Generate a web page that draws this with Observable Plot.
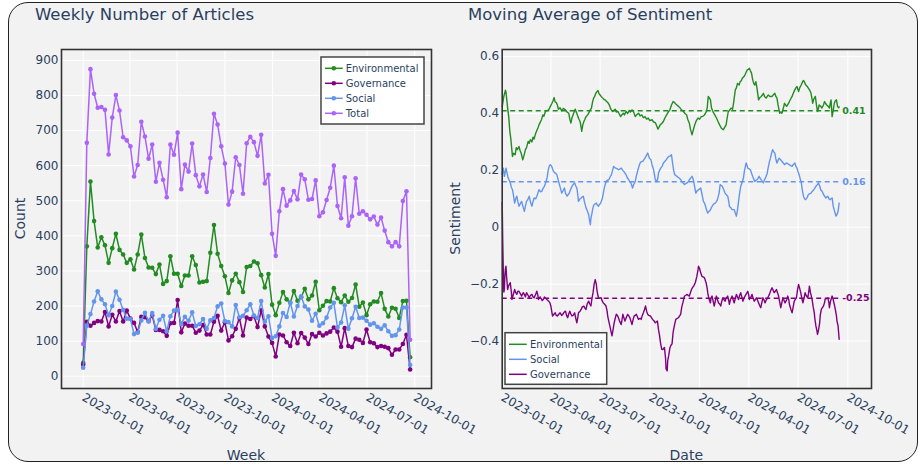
<!DOCTYPE html>
<html><head><meta charset="utf-8">
<script src="https://cdn.jsdelivr.net/npm/d3@7"></script>
<script src="https://cdn.jsdelivr.net/npm/@observablehq/plot@0.6"></script>
<style>
body{margin:0;background:#fff;font-family:"DejaVu Sans",sans-serif;}
#page{position:relative;width:919px;height:464px;overflow:hidden;background:#fff;}
#box{position:absolute;left:8px;top:2px;width:910px;height:460px;box-sizing:border-box;border:1.5px solid #222;border-radius:20px;background:#f2f2f2;}
.abs{position:absolute;left:0;top:0;}
</style></head>
<body><div id="page"><div id="box"></div></div>
<script>
// ---------- Left panel: weekly counts ----------
const weekStart = "2023-01-01";
const weekCount = 91;
const environmental = [38,370,555,442,367,396,373,323,365,406,360,347,323,333,304,347,404,337,310,309,291,318,263,271,342,292,292,257,287,287,342,317,267,269,271,352,431,349,314,285,237,273,292,268,240,311,314,327,322,288,253,291,204,174,209,240,219,209,243,215,225,249,219,230,269,188,201,214,213,251,222,211,230,212,223,261,198,210,174,205,213,212,237,192,170,195,192,166,214,215,54];
const governance = [33,155,144,152,157,156,183,142,175,156,186,156,187,164,152,126,169,168,157,173,132,132,128,115,151,152,217,125,150,144,144,124,130,146,119,119,155,172,130,154,102,114,135,166,116,167,163,171,140,188,142,113,95,56,119,116,97,86,124,94,123,110,92,120,113,124,116,122,127,139,127,84,137,86,83,107,104,95,133,97,94,83,86,84,80,61,76,76,92,118,19];
const social = [24,144,177,213,242,219,205,174,200,241,218,189,164,163,120,124,159,181,156,180,135,161,172,128,171,187,189,149,169,158,182,143,148,163,135,159,166,199,207,157,154,142,203,168,172,188,205,173,166,214,155,171,109,114,142,180,169,210,170,200,228,199,190,158,178,144,151,167,196,209,139,153,202,135,165,198,166,167,158,147,151,141,135,145,128,115,117,133,196,196,32];
const total = [92,665,875,805,765,767,759,632,737,801,757,681,672,655,569,602,725,683,620,660,554,608,560,510,660,631,694,533,603,583,663,573,541,575,525,622,748,717,655,606,489,526,624,602,520,664,682,667,628,688,549,574,406,343,470,533,486,501,528,504,575,561,503,505,558,456,467,502,537,600,485,450,567,429,456,564,463,470,460,447,455,432,452,415,382,370,382,370,499,527,104];
const countSeries = ["Environmental","Governance","Social","Total"];
const countColors = ["#228B22","#800080","#6495ED","#AB63FA"];
const xTickLabels = ["2023-01-01","2023-04-01","2023-07-01","2023-10-01","2024-01-01","2024-04-01","2024-07-01","2024-10-01"];
const yTicksLeft = [0,100,200,300,400,500,600,700,800,900];

// ---------- Right panel: moving average of sentiment (day offset, value) ----------
const sentimentStart = "2023-01-01";
const envSentiment = [[0,0.423],[3,0.46],[6,0.482],[7,0.475],[10,0.42],[12,0.39],[14,0.34],[16,0.31],[19,0.249],[21,0.26],[24,0.255],[26,0.28],[28,0.273],[31,0.284],[33,0.27],[35,0.261],[38,0.237],[40,0.25],[43,0.273],[45,0.28],[48,0.302],[50,0.295],[52,0.308],[55,0.3],[57,0.317],[59,0.31],[61,0.325],[64,0.34],[66,0.349],[68,0.36],[70,0.368],[73,0.38],[75,0.395],[77,0.39],[80,0.407],[83,0.41],[86,0.413],[89,0.425],[92,0.436],[94,0.445],[96,0.456],[98,0.44],[100,0.439],[102,0.43],[104,0.415],[107,0.42],[110,0.409],[113,0.418],[117,0.413],[120,0.405],[123,0.401],[125,0.38],[127,0.366],[129,0.385],[131,0.395],[133,0.405],[135,0.415],[138,0.4],[140,0.389],[142,0.38],[144,0.372],[146,0.35],[147,0.337],[149,0.36],[151,0.372],[153,0.38],[155,0.389],[158,0.395],[160,0.401],[162,0.41],[165,0.419],[167,0.44],[169,0.454],[171,0.46],[173,0.471],[175,0.476],[177,0.481],[179,0.47],[181,0.465],[183,0.46],[186,0.454],[188,0.45],[190,0.448],[193,0.442],[195,0.439],[198,0.43],[200,0.419],[202,0.412],[204,0.407],[206,0.41],[209,0.415],[211,0.405],[214,0.407],[216,0.4],[219,0.389],[221,0.395],[224,0.401],[226,0.395],[229,0.407],[232,0.4],[235,0.411],[237,0.405],[240,0.413],[243,0.405],[246,0.389],[249,0.396],[252,0.401],[255,0.392],[258,0.395],[261,0.385],[264,0.389],[267,0.38],[270,0.384],[273,0.375],[277,0.378],[280,0.37],[283,0.368],[286,0.355],[288,0.345],[290,0.352],[292,0.36],[295,0.365],[298,0.372],[301,0.385],[304,0.395],[307,0.405],[310,0.413],[313,0.43],[316,0.442],[318,0.44],[320,0.435],[323,0.43],[326,0.425],[329,0.419],[332,0.412],[335,0.407],[338,0.4],[341,0.395],[343,0.38],[346,0.366],[348,0.345],[351,0.325],[353,0.34],[356,0.36],[359,0.375],[362,0.384],[365,0.38],[368,0.389],[371,0.39],[374,0.395],[377,0.405],[379,0.419],[381,0.46],[383,0.455],[385,0.448],[387,0.419],[390,0.405],[393,0.395],[396,0.385],[399,0.372],[402,0.36],[405,0.349],[407,0.345],[409,0.343],[411,0.35],[414,0.36],[416,0.385],[418,0.407],[420,0.41],[423,0.419],[426,0.415],[428,0.44],[431,0.483],[433,0.49],[435,0.506],[438,0.5],[440,0.512],[442,0.515],[444,0.524],[447,0.53],[449,0.536],[451,0.545],[453,0.553],[455,0.555],[457,0.559],[459,0.55],[461,0.542],[463,0.52],[465,0.506],[467,0.5],[469,0.512],[471,0.49],[474,0.448],[476,0.455],[479,0.46],[481,0.465],[483,0.471],[485,0.46],[488,0.454],[490,0.46],[492,0.465],[495,0.46],[499,0.46],[501,0.465],[504,0.471],[506,0.46],[508,0.454],[510,0.43],[513,0.401],[515,0.405],[517,0.401],[520,0.42],[522,0.436],[524,0.43],[526,0.425],[529,0.435],[531,0.442],[533,0.45],[536,0.46],[538,0.47],[541,0.483],[543,0.49],[545,0.495],[548,0.477],[550,0.49],[553,0.501],[555,0.51],[557,0.516],[559,0.51],[561,0.501],[564,0.495],[566,0.489],[569,0.48],[571,0.471],[573,0.45],[574,0.436],[576,0.45],[579,0.46],[581,0.43],[583,0.407],[585,0.42],[586,0.43],[589,0.425],[591,0.419],[594,0.43],[596,0.442],[598,0.435],[600,0.43],[603,0.425],[605,0.419],[607,0.44],[608,0.448],[610,0.389],[612,0.41],[614,0.436],[616,0.445],[618,0.448],[620,0.425],[622,0.42],[623,0.423]];
const socSentiment = [[0,0.187],[2,0.208],[4,0.179],[7,0.208],[9,0.19],[11,0.173],[13,0.165],[15,0.156],[17,0.14],[19,0.132],[21,0.11],[23,0.085],[25,0.1],[27,0.109],[29,0.09],[31,0.074],[34,0.085],[36,0.091],[38,0.075],[41,0.056],[43,0.075],[45,0.091],[48,0.1],[50,0.109],[52,0.09],[55,0.074],[57,0.09],[59,0.103],[62,0.1],[64,0.109],[66,0.12],[68,0.132],[71,0.125],[73,0.126],[75,0.135],[78,0.144],[80,0.155],[83,0.173],[85,0.2],[87,0.215],[89,0.22],[92,0.212],[94,0.2],[97,0.191],[99,0.19],[101,0.185],[103,0.17],[105,0.156],[108,0.135],[110,0.12],[113,0.13],[115,0.138],[117,0.12],[120,0.109],[122,0.115],[124,0.12],[127,0.135],[129,0.144],[131,0.15],[134,0.156],[136,0.145],[138,0.138],[140,0.11],[141,0.091],[144,0.1],[146,0.103],[148,0.107],[150,0.109],[152,0.09],[155,0.068],[157,0.06],[160,0.044],[161,0.03],[163,0.009],[164,0.03],[166,0.05],[168,0.07],[170,0.08],[172,0.082],[174,0.085],[176,0.078],[178,0.074],[180,0.08],[182,0.085],[185,0.1],[187,0.12],[189,0.14],[192,0.161],[194,0.165],[197,0.167],[199,0.175],[202,0.185],[204,0.2],[206,0.214],[208,0.21],[210,0.208],[213,0.205],[215,0.202],[218,0.205],[220,0.208],[223,0.2],[225,0.196],[227,0.19],[229,0.185],[231,0.175],[234,0.167],[236,0.16],[238,0.156],[241,0.138],[243,0.15],[246,0.161],[248,0.18],[251,0.202],[253,0.215],[255,0.226],[257,0.23],[260,0.232],[262,0.238],[264,0.243],[266,0.25],[269,0.261],[271,0.25],[272,0.243],[275,0.237],[277,0.22],[280,0.202],[282,0.18],[283,0.167],[286,0.161],[288,0.175],[289,0.191],[291,0.2],[293,0.208],[296,0.215],[298,0.226],[301,0.232],[303,0.237],[306,0.245],[308,0.249],[310,0.25],[313,0.255],[315,0.226],[317,0.2],[319,0.185],[321,0.182],[323,0.179],[325,0.176],[327,0.173],[330,0.168],[332,0.161],[335,0.155],[337,0.15],[339,0.153],[342,0.156],[344,0.16],[346,0.167],[348,0.172],[351,0.179],[353,0.17],[354,0.161],[356,0.14],[358,0.12],[360,0.127],[363,0.132],[365,0.135],[367,0.138],[370,0.11],[372,0.091],[374,0.085],[375,0.08],[378,0.06],[380,0.05],[382,0.055],[385,0.061],[387,0.07],[390,0.08],[392,0.083],[394,0.085],[396,0.09],[398,0.097],[401,0.12],[403,0.15],[405,0.147],[407,0.144],[410,0.13],[412,0.12],[414,0.115],[417,0.109],[419,0.09],[420,0.074],[423,0.068],[425,0.062],[427,0.062],[429,0.062],[431,0.05],[433,0.039],[435,0.06],[437,0.091],[439,0.12],[441,0.144],[444,0.16],[446,0.173],[448,0.2],[451,0.226],[453,0.215],[454,0.208],[457,0.205],[459,0.202],[461,0.19],[463,0.179],[465,0.17],[467,0.161],[469,0.165],[471,0.167],[473,0.172],[475,0.179],[477,0.172],[479,0.167],[481,0.16],[483,0.156],[485,0.167],[488,0.179],[490,0.19],[491,0.202],[494,0.23],[496,0.243],[498,0.26],[500,0.273],[502,0.265],[504,0.261],[506,0.24],[508,0.226],[510,0.235],[512,0.243],[515,0.237],[517,0.232],[520,0.225],[522,0.22],[524,0.224],[526,0.226],[529,0.222],[531,0.22],[534,0.216],[536,0.214],[538,0.22],[541,0.226],[543,0.215],[545,0.208],[547,0.195],[549,0.185],[551,0.17],[553,0.156],[555,0.13],[557,0.109],[559,0.1],[561,0.097],[564,0.105],[566,0.115],[569,0.118],[571,0.12],[573,0.126],[576,0.132],[578,0.138],[580,0.144],[583,0.15],[585,0.156],[587,0.145],[589,0.132],[592,0.125],[594,0.115],[596,0.11],[598,0.103],[600,0.106],[602,0.109],[604,0.1],[606,0.097],[608,0.1],[610,0.103],[612,0.074],[614,0.06],[617,0.039],[619,0.045],[621,0.056],[622,0.07],[623,0.085]];
const govSentiment = [[0,0.087],[1,-0.05],[2,-0.15],[3,-0.228],[4,-0.219],[5,-0.17],[6,-0.145],[7,-0.137],[8,-0.17],[10,-0.219],[12,-0.205],[15,-0.195],[17,-0.23],[18,-0.254],[20,-0.24],[23,-0.219],[25,-0.23],[27,-0.236],[29,-0.225],[31,-0.225],[34,-0.235],[36,-0.242],[39,-0.23],[41,-0.236],[43,-0.245],[45,-0.23],[48,-0.24],[50,-0.248],[52,-0.24],[55,-0.236],[57,-0.245],[59,-0.248],[62,-0.235],[64,-0.225],[66,-0.24],[67,-0.254],[70,-0.245],[72,-0.251],[74,-0.258],[76,-0.254],[78,-0.245],[81,-0.251],[83,-0.255],[86,-0.26],[88,-0.265],[90,-0.277],[92,-0.3],[93,-0.312],[96,-0.305],[98,-0.301],[100,-0.31],[102,-0.312],[105,-0.305],[107,-0.301],[110,-0.31],[112,-0.306],[114,-0.3],[117,-0.295],[119,-0.31],[121,-0.318],[123,-0.305],[125,-0.295],[127,-0.305],[129,-0.312],[131,-0.31],[134,-0.301],[136,-0.32],[138,-0.336],[140,-0.315],[141,-0.301],[144,-0.295],[146,-0.289],[148,-0.28],[151,-0.277],[153,-0.285],[155,-0.289],[157,-0.27],[160,-0.26],[162,-0.27],[164,-0.277],[166,-0.25],[168,-0.23],[170,-0.2],[172,-0.184],[174,-0.2],[175,-0.219],[177,-0.24],[178,-0.248],[180,-0.25],[183,-0.248],[185,-0.26],[187,-0.266],[189,-0.27],[192,-0.277],[194,-0.295],[195,-0.312],[197,-0.33],[199,-0.347],[201,-0.365],[203,-0.382],[205,-0.36],[207,-0.336],[209,-0.32],[211,-0.306],[213,-0.31],[215,-0.318],[217,-0.33],[220,-0.342],[222,-0.32],[223,-0.306],[225,-0.318],[227,-0.33],[230,-0.315],[232,-0.306],[234,-0.312],[236,-0.318],[238,-0.33],[240,-0.342],[242,-0.325],[244,-0.312],[246,-0.31],[248,-0.306],[250,-0.315],[252,-0.324],[255,-0.32],[257,-0.324],[259,-0.31],[261,-0.301],[263,-0.29],[265,-0.277],[267,-0.295],[269,-0.306],[271,-0.31],[274,-0.312],[276,-0.318],[278,-0.324],[281,-0.33],[283,-0.336],[285,-0.333],[287,-0.33],[289,-0.36],[291,-0.382],[293,-0.41],[295,-0.429],[297,-0.43],[300,-0.423],[302,-0.46],[303,-0.499],[305,-0.505],[306,-0.47],[308,-0.45],[310,-0.425],[312,-0.415],[314,-0.41],[316,-0.37],[317,-0.359],[319,-0.34],[321,-0.324],[324,-0.32],[326,-0.318],[328,-0.312],[330,-0.306],[332,-0.28],[334,-0.266],[337,-0.242],[339,-0.24],[342,-0.236],[344,-0.24],[346,-0.242],[348,-0.23],[350,-0.219],[352,-0.212],[354,-0.207],[357,-0.195],[359,-0.18],[360,-0.172],[362,-0.15],[363,-0.137],[365,-0.145],[366,-0.154],[368,-0.165],[369,-0.172],[372,-0.175],[374,-0.178],[376,-0.19],[377,-0.195],[379,-0.215],[380,-0.23],[382,-0.25],[385,-0.266],[386,-0.25],[388,-0.242],[390,-0.26],[392,-0.277],[394,-0.26],[396,-0.242],[398,-0.255],[400,-0.266],[402,-0.27],[404,-0.277],[406,-0.26],[408,-0.248],[410,-0.255],[412,-0.26],[414,-0.25],[417,-0.242],[419,-0.26],[420,-0.271],[422,-0.255],[425,-0.242],[427,-0.255],[429,-0.266],[431,-0.25],[433,-0.236],[435,-0.245],[437,-0.254],[439,-0.24],[441,-0.23],[443,-0.245],[445,-0.26],[447,-0.25],[449,-0.242],[451,-0.235],[454,-0.225],[456,-0.24],[457,-0.254],[460,-0.245],[462,-0.236],[464,-0.25],[466,-0.26],[468,-0.255],[470,-0.248],[472,-0.256],[474,-0.266],[476,-0.275],[478,-0.283],[480,-0.265],[482,-0.248],[484,-0.256],[486,-0.266],[488,-0.256],[491,-0.248],[493,-0.24],[494,-0.236],[497,-0.22],[499,-0.213],[501,-0.222],[503,-0.23],[505,-0.225],[507,-0.219],[509,-0.23],[511,-0.242],[513,-0.262],[515,-0.283],[517,-0.265],[519,-0.248],[521,-0.257],[523,-0.266],[526,-0.255],[528,-0.242],[530,-0.256],[531,-0.271],[534,-0.29],[536,-0.301],[538,-0.28],[540,-0.26],[542,-0.254],[544,-0.248],[546,-0.22],[548,-0.201],[550,-0.215],[552,-0.23],[554,-0.25],[556,-0.266],[558,-0.25],[560,-0.23],[562,-0.24],[565,-0.248],[567,-0.225],[568,-0.207],[570,-0.23],[573,-0.254],[575,-0.28],[577,-0.301],[578,-0.32],[580,-0.347],[582,-0.365],[583,-0.377],[585,-0.36],[587,-0.336],[588,-0.31],[590,-0.289],[592,-0.283],[594,-0.277],[596,-0.265],[597,-0.254],[600,-0.25],[602,-0.248],[604,-0.265],[605,-0.283],[607,-0.26],[610,-0.242],[612,-0.255],[614,-0.271],[616,-0.29],[618,-0.312],[619,-0.33],[621,-0.347],[622,-0.37],[623,-0.394]];
const sentimentSeries = ["Environmental","Social","Governance"];
const sentimentColors = ["#228B22","#6495ED","#800080"];
const sentimentMeans = [0.41, 0.16, -0.25];
const sentimentMeanLabels = ["0.41", "0.16", "-0.25"];
const yTicksRight = [-0.4,-0.2,0,0.2,0.4,0.6];
const yTickLabelsRight = ["\u22120.4","\u22120.2","0","0.2","0.4","0.6"];

// ---------- build ----------
const DAY = 864e5;
const t0 = Date.parse(weekStart);
const s0 = Date.parse(sentimentStart);
const weekDates = d3.range(weekCount).map(i => new Date(t0 + 7 * i * DAY));
const countTable = [environmental, governance, social, total].flatMap((arr, k) =>
  arr.map((v, i) => ({series: countSeries[k], color: countColors[k], week: weekDates[i], value: v})));
const xTicks = xTickLabels.map(s => new Date(s));
const fmtX = d => xTickLabels[xTicks.findIndex(t => +t === +d)];
const textColor = "#2a3f5f";
const baseStyle = {background: "transparent", overflow: "visible", fontFamily: "DejaVu Sans", fontSize: "12px", color: textColor};

const leftMarks = [
  Plot.gridX(xTicks, {stroke: "#fff", strokeOpacity: 1, strokeWidth: 1}),
  Plot.gridY(yTicksLeft, {stroke: "#fff", strokeOpacity: 1, strokeWidth: 1}),
  Plot.axisY(yTicksLeft, {tickSize: 0, tickPadding: 3, label: null, fill: textColor}),
  Plot.axisX(xTicks, {tickSize: 0, tickPadding: 8, tickRotate: 30, textAnchor: "start", tickFormat: fmtX, label: null, fill: textColor})
];
countSeries.forEach((name, k) => {
  const rows = countTable.filter(r => r.series === name);
  leftMarks.push(Plot.line(rows, {x: "week", y: "value", stroke: countColors[k], strokeWidth: 1.5}));
  leftMarks.push(Plot.dot(rows, {x: "week", y: "value", fill: countColors[k], r: 2.3, stroke: "none"}));
});
leftMarks.push(Plot.frame({stroke: "#333", strokeWidth: 1.6}));

const left = Plot.plot({
  width: 460, height: 464,
  marginLeft: 61, marginRight: 29, marginTop: 49, marginBottom: 76,
  style: baseStyle,
  x: {type: "utc", domain: [new Date(t0 - 41.8 * DAY), new Date(t0 + 671.2 * DAY)]},
  y: {domain: [-35, 931]},
  marks: leftMarks
});

const sentTables = [envSentiment, socSentiment, govSentiment].map((arr, k) =>
  arr.map(([d, v]) => ({series: sentimentSeries[k], date: new Date(s0 + d * DAY), value: v})));
const sentEnd = new Date(s0 + 623 * DAY);
const meanRows = sentimentMeans.map((m, k) => ({mean: m, label: sentimentMeanLabels[k], color: sentimentColors[k], start: new Date(s0), end: sentEnd}));
const fmtY = d => yTickLabelsRight[yTicksRight.findIndex(t => Math.abs(t - d) < 1e-9)];

const rightMarks = [
  Plot.gridX(xTicks, {stroke: "#fff", strokeOpacity: 1, strokeWidth: 1}),
  Plot.gridY(yTicksRight, {stroke: "#fff", strokeOpacity: 1, strokeWidth: 1}),
  Plot.axisY(yTicksRight, {tickSize: 0, tickPadding: 3, tickFormat: fmtY, label: null, fill: textColor}),
  Plot.axisX(xTicks, {tickSize: 0, tickPadding: 8, tickRotate: 30, textAnchor: "start", tickFormat: fmtX, label: null, fill: textColor})
];
sentTables.forEach((rows, k) => {
  rightMarks.push(Plot.line(rows, {x: "date", y: "value", stroke: sentimentColors[k], strokeWidth: 1.4}));
});
meanRows.forEach(r => {
  rightMarks.push(Plot.ruleY([r], {y: "mean", x1: "start", x2: "end", stroke: r.color, strokeWidth: 1.5, strokeDasharray: "5,3.5"}));
  rightMarks.push(Plot.text([r], {x: "end", y: "mean", text: "label", dx: 3, textAnchor: "start", fill: r.color, fontWeight: "bold", fontSize: 9.5}));
});
rightMarks.push(Plot.frame({stroke: "#333", strokeWidth: 1.6}));

const right = Plot.plot({
  width: 479, height: 464,
  marginLeft: 61.7, marginRight: 48, marginTop: 49, marginBottom: 76,
  style: baseStyle,
  x: {type: "utc", domain: [new Date(s0), new Date(s0 + 682.8 * DAY)]},
  y: {domain: [-0.567, 0.625]},
  marks: rightMarks
});

const page = document.getElementById("page");
left.classList.add("abs"); left.style.left = "0px"; left.style.top = "0px";
right.classList.add("abs"); right.style.left = "440px"; right.style.top = "0px";
page.appendChild(left); page.appendChild(right);

// ---------- overlay: titles, axis titles, legends ----------
const NS = "http://www.w3.org/2000/svg";
const ov = document.createElementNS(NS, "svg");
ov.setAttribute("width", 919); ov.setAttribute("height", 464);
ov.setAttribute("class", "abs");
ov.style.fontFamily = "DejaVu Sans";
page.appendChild(ov);
function el(tag, attrs, text) {
  const e = document.createElementNS(NS, tag);
  for (const k in attrs) e.setAttribute(k, attrs[k]);
  if (text != null) e.textContent = text;
  ov.appendChild(e);
  return e;
}
el("text", {x: 35, y: 19.5, "font-size": 16.5, fill: textColor}, "Weekly Number of Articles");
el("text", {x: 468, y: 19.5, "font-size": 16.5, fill: textColor}, "Moving Average of Sentiment");
el("text", {x: 246, y: 460, "font-size": 14, fill: textColor, "text-anchor": "middle"}, "Week");
el("text", {x: 686.3, y: 460, "font-size": 14, fill: textColor, "text-anchor": "middle"}, "Date");
el("text", {transform: "translate(24.5,218.5) rotate(-90)", "font-size": 14, fill: textColor, "text-anchor": "middle"}, "Count");
el("text", {transform: "translate(460,218.5) rotate(-90)", "font-size": 14, fill: textColor, "text-anchor": "middle"}, "Sentiment");

// left legend
el("rect", {x: 321, y: 57, width: 103, height: 67, fill: "#fff", stroke: "#444", "stroke-width": 1.5});
countSeries.forEach((name, k) => {
  const cy = 68.3 + 15 * k;
  el("line", {x1: 325, x2: 342.7, y1: cy, y2: cy, stroke: countColors[k], "stroke-width": 1.5});
  el("circle", {cx: 333.8, cy: cy, r: 2.3, fill: countColors[k]});
  el("text", {x: 345.7, y: cy + 3.6, "font-size": 10, fill: textColor}, name);
});
// right legend
el("rect", {x: 505, y: 332.7, width: 101.7, height: 51.6, fill: "#fff", stroke: "#444", "stroke-width": 1.5});
sentimentSeries.forEach((name, k) => {
  const cy = 344.3 + 15 * k;
  el("line", {x1: 509, x2: 526.7, y1: cy, y2: cy, stroke: sentimentColors[k], "stroke-width": 1.5});
  el("text", {x: 530, y: cy + 3.6, "font-size": 10, fill: textColor}, name);
});
</script>
</body></html>
